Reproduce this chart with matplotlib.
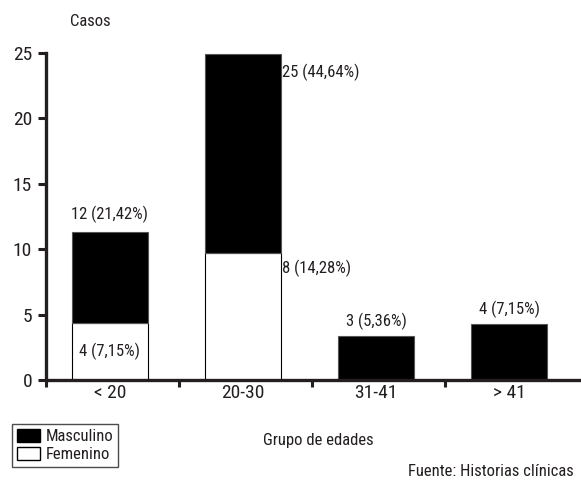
import matplotlib
matplotlib.use('Agg')
import numpy as np
import matplotlib.pyplot as plt
from matplotlib.patches import Patch

plt.rcParams['font.family'] = ['Roboto Condensed', 'Archivo Narrow', 'DejaVu Sans']
ink = '#231f20'
plt.rcParams['text.color'] = ink
plt.rcParams['xtick.color'] = ink
plt.rcParams['ytick.color'] = ink

# data (bar heights as drawn, labels as printed)
grupos = ['< 20', '20-30', '31-41', '> 41']
femenino = [4.33, 9.73, 0.0, 0.0]
masculino = [6.96, 15.17, 3.36, 4.3]
etiq_total = ['12 (21,42%)', '25 (44,64%)', '3 (5,36%)', '4 (7,15%)']
etiq_fem = ['4 (7,15%)', '8 (14,28%)', '', '']

fig = plt.figure(figsize=(5.81, 4.91), dpi=100)
ax = fig.add_axes([0.0792, 0.2261, 0.9208, 0.6659])

x = np.arange(len(grupos))
w = 0.57
ax.bar(x, femenino, w, color='white', edgecolor='black', linewidth=0.8)
ax.bar(x, masculino, w, bottom=femenino, color='black', edgecolor='#555555', linewidth=0.8)

tot = np.array(femenino) + np.array(masculino)
fs = 12
ax.text(x[0], tot[0] + 0.75, etiq_total[0], ha='center', va='bottom', fontsize=fs)
ax.text(x[0], femenino[0] / 2, etiq_fem[0], ha='center', va='center', fontsize=fs)
ax.text(x[1] + w / 2 + 0.01, tot[1] - 0.7, etiq_total[1], ha='left', va='top', fontsize=fs)
ax.text(x[1] + w / 2 + 0.01, femenino[1] - 0.5, etiq_fem[1], ha='left', va='top', fontsize=fs)
ax.text(x[2], tot[2] + 0.45, etiq_total[2], ha='center', va='bottom', fontsize=fs)
ax.text(x[3], tot[3] + 0.45, etiq_total[3], ha='center', va='bottom', fontsize=fs)

ax.set_xlim(-0.48, 3.54)
ax.set_ylim(0, 25)
ax.set_yticks([0, 5, 10, 15, 20, 25])
ax.set_xticks(x)
ax.set_xticklabels(grupos, fontsize=14)
ax.set_xticks([-0.48, 0.52, 1.52, 2.52], minor=True)
ax.tick_params(axis='x', which='major', length=0, pad=3)
ax.tick_params(axis='x', which='minor', length=5, width=2.2, direction='out', color=ink)
ax.tick_params(axis='y', length=6, width=2.2, direction='out', labelsize=14, pad=4, color=ink)

for s in ['top', 'right']:
    ax.spines[s].set_visible(False)
for s in ['left', 'bottom']:
    ax.spines[s].set_linewidth(2.4)
    ax.spines[s].set_color(ink)
ax.spines['bottom'].set_capstyle('butt')

fig.text(70 / 581, 1 - 22 / 491, 'Casos', ha='left', va='center', fontsize=12)
fig.text(318 / 581, 1 - 440 / 491, 'Grupo de edades', ha='center', va='center', fontsize=12)
fig.text(408 / 581, 1 - 471 / 491, 'Fuente: Historias clínicas', ha='left', va='center', fontsize=12)

handles = [Patch(facecolor='black', edgecolor='black', label='Masculino'),
           Patch(facecolor='white', edgecolor='black', label='Femenino')]
leg = fig.legend(handles=handles, loc='lower left', bbox_to_anchor=(12 / 581, 1 - 467 / 491),
                 frameon=True, fancybox=False, fontsize=12, handlelength=1.4, handleheight=0.8,
                 handletextpad=0.3, labelspacing=0.15, borderpad=0.3, borderaxespad=0)
leg.get_frame().set_edgecolor(ink)
leg.get_frame().set_linewidth(1.0)

fig.savefig('out.png', dpi=100)
